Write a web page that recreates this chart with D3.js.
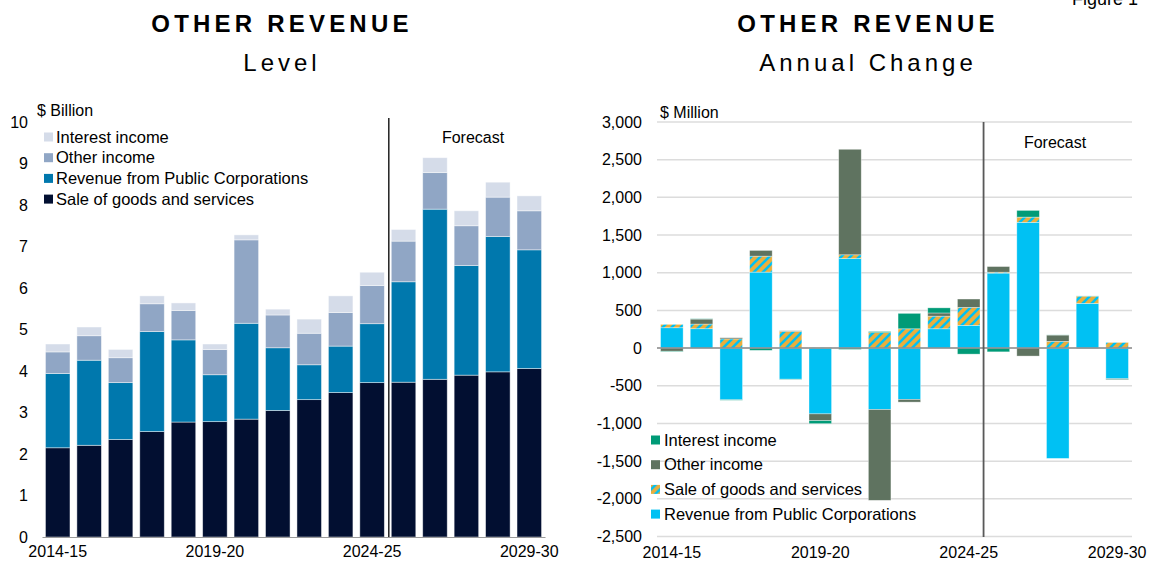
<!DOCTYPE html>
<html>
<head>
<meta charset="utf-8">
<script src="https://cdn.jsdelivr.net/npm/d3@7"></script>
<style>
  body { margin: 0; background: #fff; }
  svg { font-family: "Liberation Sans", Arial, sans-serif; }
</style>
</head>
<body>
<svg width="1155" height="565"></svg>
<script>
// financial years, shared by both panels
const years = ['2014-15', '2015-16', '2016-17', '2017-18', '2018-19', '2019-20', '2020-21', '2021-22',
    '2022-23', '2023-24', '2024-25', '2025-26', '2026-27', '2027-28', '2028-29', '2029-30'];
const tickYears = ['2014-15', '2019-20', '2024-25', '2029-30'];
const forecastFrom = '2025-26';

// level, $ billion
const sale = [2.15, 2.21, 2.35, 2.54, 2.77, 2.78, 2.84, 3.05, 3.31, 3.48, 3.72, 3.73, 3.80, 3.90, 3.98, 4.06];
const pubCorp = [1.79, 2.05, 1.37, 2.41, 1.98, 1.13, 2.31, 1.51, 0.84, 1.12, 1.42, 2.42, 4.10, 2.64, 3.26, 2.86];
const otherInc = [0.52, 0.59, 0.60, 0.67, 0.71, 0.61, 2.01, 0.79, 0.76, 0.81, 0.92, 0.98, 0.88, 0.96, 0.95, 0.94];
const interest = [0.19, 0.21, 0.20, 0.19, 0.18, 0.13, 0.12, 0.14, 0.34, 0.40, 0.32, 0.28, 0.36, 0.36, 0.36, 0.36];

// annual change, $ million
const chgPubCorp = [270, 257, -686, 1008, -413, -873, 1188, -815, -681, 256, 301, 995, 1668, -1464, 593, -407];
const chgSale = [45, 62, 122, 212, 222, 10, 50, 205, 256, 168, 239, 12, 70, 89, 96, 75];
const chgOther = [-42, 66, 15, 76, 8, -90, 1400, -1205, -36, 42, 111, 75, -106, 84, -8, -13];
const chgInterest = [-8, 4, -6, -30, -6, -40, -18, 15, 205, 68, -80, -50, 89, 2, 3, -3];

const svg = d3.select('svg');
const fmt = d => d3.format(',')(d).replace('\u2212', '-');

// hatch for sale of goods in the change panel
const defs = svg.append('defs');
const pat = defs.append('pattern')
    .attr('id', 'hatch')
    .attr('patternUnits', 'userSpaceOnUse')
    .attr('width', 9)
    .attr('height', 9);
pat.append('rect').attr('width', 9).attr('height', 9).attr('fill', '#eaae3c');
pat.append('path')
    .attr('d', 'M-2,2L2,-2M0,9L9,0M7,11L11,7')
    .attr('stroke', '#00c1f3')
    .attr('stroke-width', 2.6);

// titles
function titles(cx, sub) {
    svg.append('text')
        .attr('x', cx).attr('y', 32)
        .attr('text-anchor', 'middle')
        .attr('font-size', 24).attr('font-weight', 'bold')
        .attr('letter-spacing', 4.2)
        .text('OTHER REVENUE');
    svg.append('text')
        .attr('x', cx).attr('y', 71)
        .attr('text-anchor', 'middle')
        .attr('font-size', 24)
        .attr('letter-spacing', 4)
        .text(sub);
}
titles(282, 'Level');
titles(868, 'Annual Change');

svg.append('text')
    .attr('x', 1072).attr('y', 5)
    .attr('font-size', 18)
    .text('Figure 1');

// ---------- left panel: level ----------
const levelKeys = ['sale', 'pubCorp', 'other', 'interest'];
const levelColors = {sale: '#020f31', pubCorp: '#0078ad', other: '#90a6c5', interest: '#d5dce9'};
const levelData = years.map((y, i) => ({
    year: y, sale: sale[i], pubCorp: pubCorp[i], other: otherInc[i], interest: interest[i]
}));

const x1 = d3.scaleBand().domain(years).range([42, 545]).paddingInner(0.22).paddingOuter(0.11);
const y1 = d3.scaleLinear().domain([0, 10]).range([537, 122]);

const levelStack = d3.stack().keys(levelKeys)(levelData);

svg.append('g')
    .selectAll('g')
    .data(levelStack)
    .join('g')
    .attr('fill', d => levelColors[d.key])
    .selectAll('rect')
    .data(d => d)
    .join('rect')
    .attr('x', d => x1(d.data.year))
    .attr('width', x1.bandwidth())
    .attr('y', d => y1(d[1]))
    .attr('height', d => y1(d[0]) - y1(d[1]))
    .attr('stroke', '#fff')
    .attr('stroke-opacity', 0.55)
    .attr('stroke-width', 0.8);

const yAxis1 = svg.append('g')
    .attr('transform', 'translate(42,0)')
    .call(d3.axisLeft(y1).ticks(10).tickSize(0).tickPadding(14));
yAxis1.select('.domain').remove();
yAxis1.selectAll('text').attr('font-size', 16).attr('fill', '#000').attr('font-family', null);

const xAxis1 = svg.append('g')
    .attr('transform', 'translate(0,537)')
    .call(d3.axisBottom(x1).tickValues(tickYears).tickSize(0).tickPadding(9));
xAxis1.select('.domain').attr('stroke', '#9a9a9a').attr('stroke-width', 1.2);
xAxis1.selectAll('text').attr('font-size', 16).attr('fill', '#000').attr('font-family', null);

const fx1 = (x1(forecastFrom) + x1(years[10]) + x1.bandwidth()) / 2 + 1;
svg.append('line')
    .attr('x1', fx1).attr('x2', fx1)
    .attr('y1', 118).attr('y2', 537)
    .attr('stroke', '#111').attr('stroke-width', 1.4);
svg.append('text')
    .attr('x', 473).attr('y', 143)
    .attr('text-anchor', 'middle').attr('font-size', 16)
    .text('Forecast');

svg.append('text')
    .attr('x', 37).attr('y', 116)
    .attr('font-size', 16)
    .text('$ Billion');

const legend1 = [
    {key: 'interest', label: 'Interest income'},
    {key: 'other', label: 'Other income'},
    {key: 'pubCorp', label: 'Revenue from Public Corporations'},
    {key: 'sale', label: 'Sale of goods and services'}
];
const lg1 = svg.append('g')
    .selectAll('g')
    .data(legend1)
    .join('g')
    .attr('transform', (d, i) => `translate(44,${137 + i * 20.7})`);
lg1.append('rect')
    .attr('y', -4.5).attr('width', 9).attr('height', 9)
    .attr('fill', d => levelColors[d.key]);
lg1.append('text')
    .attr('x', 12).attr('dy', '0.35em')
    .attr('font-size', 16.5)
    .text(d => d.label);

// ---------- right panel: annual change ----------
const chgKeys = ['pubCorp', 'sale', 'other', 'interest'];
const chgColors = {pubCorp: '#00c1f3', sale: 'url(#hatch)', other: '#5f7360', interest: '#009b77'};
const chgData = years.map((y, i) => ({
    year: y, pubCorp: chgPubCorp[i], sale: chgSale[i], other: chgOther[i], interest: chgInterest[i]
}));

const x2 = d3.scaleBand().domain(years).range([657, 1132]).paddingInner(0.24).paddingOuter(0.12);
const y2 = d3.scaleLinear().domain([-2500, 3000]).range([536.5, 122]);

const yTicks2 = d3.range(-2500, 3001, 500);

svg.append('g')
    .selectAll('line')
    .data(yTicks2)
    .join('line')
    .attr('x1', 657).attr('x2', 1132)
    .attr('y1', d => y2(d)).attr('y2', d => y2(d))
    .attr('stroke', '#dcdcdc').attr('stroke-width', 1.5);

const chgStack = d3.stack().keys(chgKeys).offset(d3.stackOffsetDiverging)(chgData);

svg.append('g')
    .selectAll('g')
    .data(chgStack)
    .join('g')
    .attr('fill', d => chgColors[d.key])
    .selectAll('rect')
    .data(d => d)
    .join('rect')
    .attr('x', d => x2(d.data.year))
    .attr('width', x2.bandwidth())
    .attr('y', d => y2(d[1]))
    .attr('height', d => Math.max(0, y2(d[0]) - y2(d[1])))
    .attr('stroke', '#fff')
    .attr('stroke-opacity', 0.5)
    .attr('stroke-width', 0.7);

svg.append('line')
    .attr('x1', 657).attr('x2', 1132)
    .attr('y1', y2(0)).attr('y2', y2(0))
    .attr('stroke', '#8c8c8c').attr('stroke-width', 1.5);

const yAxis2 = svg.append('g')
    .attr('transform', 'translate(657,0)')
    .call(d3.axisLeft(y2).tickValues(yTicks2).tickFormat(fmt).tickSize(0).tickPadding(15));
yAxis2.select('.domain').remove();
yAxis2.selectAll('text').attr('font-size', 16).attr('fill', '#000').attr('font-family', null);

const xAxis2 = svg.append('g')
    .attr('transform', 'translate(0,537)')
    .call(d3.axisBottom(x2).tickValues(tickYears).tickSize(0).tickPadding(10));
xAxis2.select('.domain').remove();
xAxis2.selectAll('text').attr('font-size', 16).attr('fill', '#000').attr('font-family', null);

const fx2 = (x2(forecastFrom) + x2(years[10]) + x2.bandwidth()) / 2;
svg.append('line')
    .attr('x1', fx2).attr('x2', fx2)
    .attr('y1', 122).attr('y2', 537)
    .attr('stroke', '#595959').attr('stroke-width', 1.8);
svg.append('text')
    .attr('x', 1055).attr('y', 148)
    .attr('text-anchor', 'middle').attr('font-size', 16)
    .text('Forecast');

svg.append('text')
    .attr('x', 660).attr('y', 118)
    .attr('font-size', 16)
    .text('$ Million');

const legend2 = [
    {key: 'interest', label: 'Interest income'},
    {key: 'other', label: 'Other income'},
    {key: 'sale', label: 'Sale of goods and services'},
    {key: 'pubCorp', label: 'Revenue from Public Corporations'}
];
const lg2 = svg.append('g')
    .selectAll('g')
    .data(legend2)
    .join('g')
    .attr('transform', (d, i) => `translate(651,${440 + i * 24.7})`);
lg2.append('rect')
    .attr('y', -4.5).attr('width', 9).attr('height', 9)
    .attr('fill', d => chgColors[d.key]);
lg2.append('text')
    .attr('x', 13).attr('dy', '0.35em')
    .attr('font-size', 16.5)
    .text(d => d.label);
</script>
</body>
</html>
